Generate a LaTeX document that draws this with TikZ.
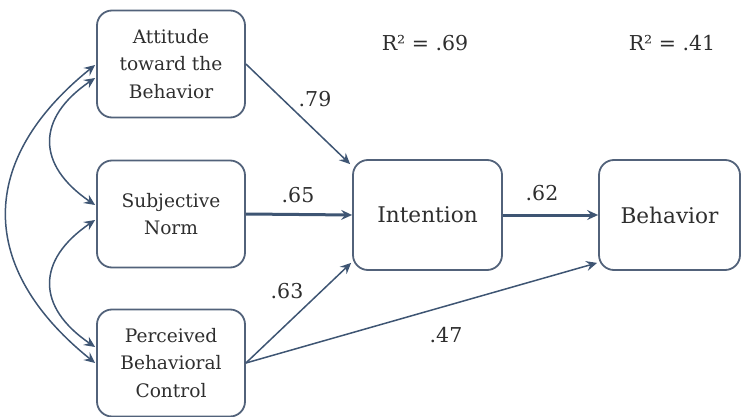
\documentclass[tikz,border=0pt]{standalone}
\usepackage{fontspec}
\setmainfont{DejaVu Serif}
\usetikzlibrary{arrows.meta,calc}
\definecolor{boxc}{HTML}{52627A}
\definecolor{arrc}{HTML}{3E5573}
\definecolor{txtc}{HTML}{2E2E2E}
\begin{document}
\begin{tikzpicture}[x=1pt,y=-1pt,
  box/.style={draw=boxc,line width=1.8pt,rounded corners=15pt,text=txtc,align=center,inner sep=0pt},
  smallbox/.style={box,minimum width=148pt,minimum height=107pt,font=\fontsize{18.6}{27.5}\selectfont},
  bigbox/.style={box,minimum width=149pt,minimum height=110pt,font=\fontsize{21.6}{26}\selectfont},
  lbl/.style={text=txtc,font=\fontsize{20.5}{24}\selectfont,inner sep=0pt},
  arr/.style={draw=arrc,line width=1.5pt,-{Stealth[length=11pt,width=10pt,inset=4pt]}},
  thick arr/.style={arr,line width=3pt},
  dbl/.style={draw=arrc,line width=1.5pt,{Stealth[length=11pt,width=10pt,inset=4pt]}-{Stealth[length=11pt,width=10pt,inset=4pt]}}]
\useasboundingbox (0,0) rectangle (741,417);
\node[smallbox] (A) at (171,64) {Attitude\\toward the\\Behavior};
\node[smallbox] (S) at (171,214) {Subjective\\Norm};
\node[smallbox] (P) at (171,363) {Perceived\\Behavioral\\Control};
\node[bigbox] (I) at (427.5,215) {Intention};
\node[bigbox,minimum width=141pt] (B) at (669.5,215) {Behavior};
\node[lbl] (r1) at (425,43) {R² = .69};
\node[lbl] (r2) at (672,43) {R² = .41};
% paths
\draw[arr] (A.east) -- ($(I.north west)+(-2,5)$);
\draw[thick arr] (S.east) -- (I.west);
\draw[arr] (P.east) -- ($(I.south west)+(-1,-8)$);
\draw[arr] (P.east) -- ($(B.south west)+(-1,-8)$);
\draw[thick arr] (I.east) -- (B.west);
% correlations
\draw[dbl] ($(A.west)+(-1,14)$) .. controls +(-59,40) and +(-59,-40) .. ($(S.west)+(-1,-9)$);
\draw[dbl] ($(S.west)+(-1,6)$) .. controls +(-59,40) and +(-59,-40) .. ($(P.west)+(-1,-16)$);
\draw[dbl] ($(A.west)+(-1,1)$) .. controls +(-118,95) and +(-118,-95) .. ($(P.west)+(-1,0)$);
% labels
\node[lbl] (l79) at (315,99) {.79};
\node[lbl] (l65) at (298,195) {.65};
\node[lbl] (l63) at (287,291) {.63};
\node[lbl] (l62) at (542,193) {.62};
\node[lbl] (l47) at (446,335) {.47};
\end{tikzpicture}
\end{document}
